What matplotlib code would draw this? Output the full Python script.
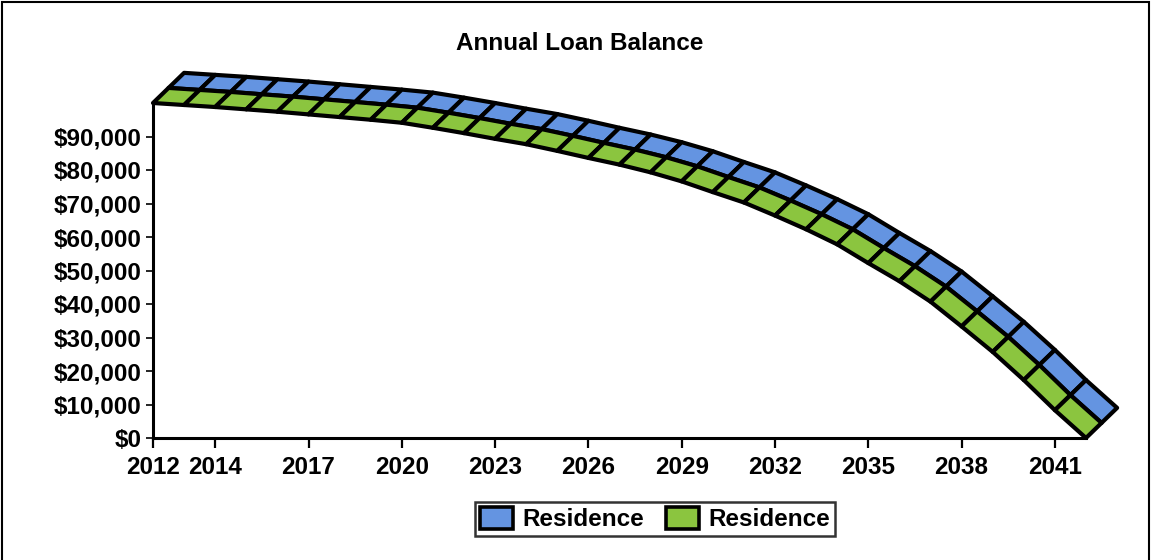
import numpy as np
import matplotlib
matplotlib.use("Agg")
from matplotlib import pyplot as plt
from matplotlib.collections import PolyCollection
from matplotlib.patches import Patch, Rectangle

plt.rcParams['font.family'] = ['Liberation Sans', 'DejaVu Sans']
plt.rcParams['font.weight'] = 'bold'

### data
years = list(range(2012, 2043))
balance = [100000, 99400, 98800, 98100, 97400, 96600, 95800, 95000, 94100, 92600,
           91000, 89300, 87700, 85700, 83600, 81600, 79300, 76600, 73400, 70300,
           66400, 62300, 57800, 52200, 46800, 40700, 33300, 25700, 17300, 8300, 0]
series_names = ["Residence", "Residence"]
series_colors = ["#6494E1", "#8BC53F"]  # back (blue), front (green)

tick_years = [2012, 2014, 2017, 2020, 2023, 2026, 2029, 2032, 2035, 2038, 2041]
ytick_vals = list(range(0, 100000, 10000))
###

fsize = 17.5

# depth of one ribbon, in data units
depth_x = 0.5
depth_y = 4500


def ribbon(xs, ys, k):
    # quads of ribbon number k (0 = front)
    x0 = np.array(xs, float) + k * depth_x
    y0 = np.array(ys, float) + k * depth_y
    x1 = x0 + depth_x
    y1 = y0 + depth_y
    quads = []
    for i in range(len(xs) - 1):
        quads.append([(x0[i], y0[i]), (x0[i + 1], y0[i + 1]),
                      (x1[i + 1], y1[i + 1]), (x1[i], y1[i])])
    return quads


fig = plt.figure(figsize=(11.51, 5.6), dpi=100)
ax = fig.add_axes([153 / 1151, 1 - 438 / 560, (1086 - 153) / 1151, (438 - 103) / 560])

# back ribbon first, then front one over it
for k, col in [(1, series_colors[0]), (0, series_colors[1])]:
    pc = PolyCollection(ribbon(years, balance, k), facecolors=col,
                        edgecolors='black', linewidths=3.0, joinstyle='round',
                        zorder=3 - k, clip_on=False)
    ax.add_collection(pc)

ax.set_xlim(2012, 2042)
ax.set_ylim(0, 100000)

for s in ['top', 'right']:
    ax.spines[s].set_visible(False)
for s in ['left', 'bottom']:
    ax.spines[s].set_linewidth(2.2)

ax.set_xticks(tick_years)
ax.set_xticklabels([str(y) for y in tick_years])
ax.set_yticks(ytick_vals)
ax.set_yticklabels(["${:,}".format(v) for v in ytick_vals])
ax.tick_params(axis='x', length=7, width=1.6, pad=6, labelsize=fsize)
ax.tick_params(axis='y', length=5, width=1.2, pad=3, labelsize=fsize)
for lab in ax.get_xticklabels() + ax.get_yticklabels():
    lab.set_fontweight('bold')

fig.text(580 / 1151, 1 - 43 / 560, "Annual Loan Balance", ha='center', va='center',
         fontsize=fsize, fontweight='bold')

handles = [Patch(facecolor=series_colors[0], edgecolor='black', linewidth=2.6),
           Patch(facecolor=series_colors[1], edgecolor='black', linewidth=2.6)]
leg = fig.legend(handles, series_names, loc='center', ncol=2,
                 bbox_to_anchor=(655 / 1151, 1 - 519 / 560),
                 prop={'size': fsize, 'weight': 'bold'}, frameon=True, fancybox=False,
                 handlelength=1.35, handleheight=1.0, handletextpad=0.4,
                 columnspacing=0.9, borderpad=0.2, borderaxespad=0)
leg.get_frame().set_edgecolor('black')
leg.get_frame().set_linewidth(1.8)

# outer border of the chart area
fig.patches.append(Rectangle((0.002, -0.01), 0.996, 1.006, transform=fig.transFigure,
                             fill=False, edgecolor='black', linewidth=1.5))

fig.savefig("out.png", dpi=100)
